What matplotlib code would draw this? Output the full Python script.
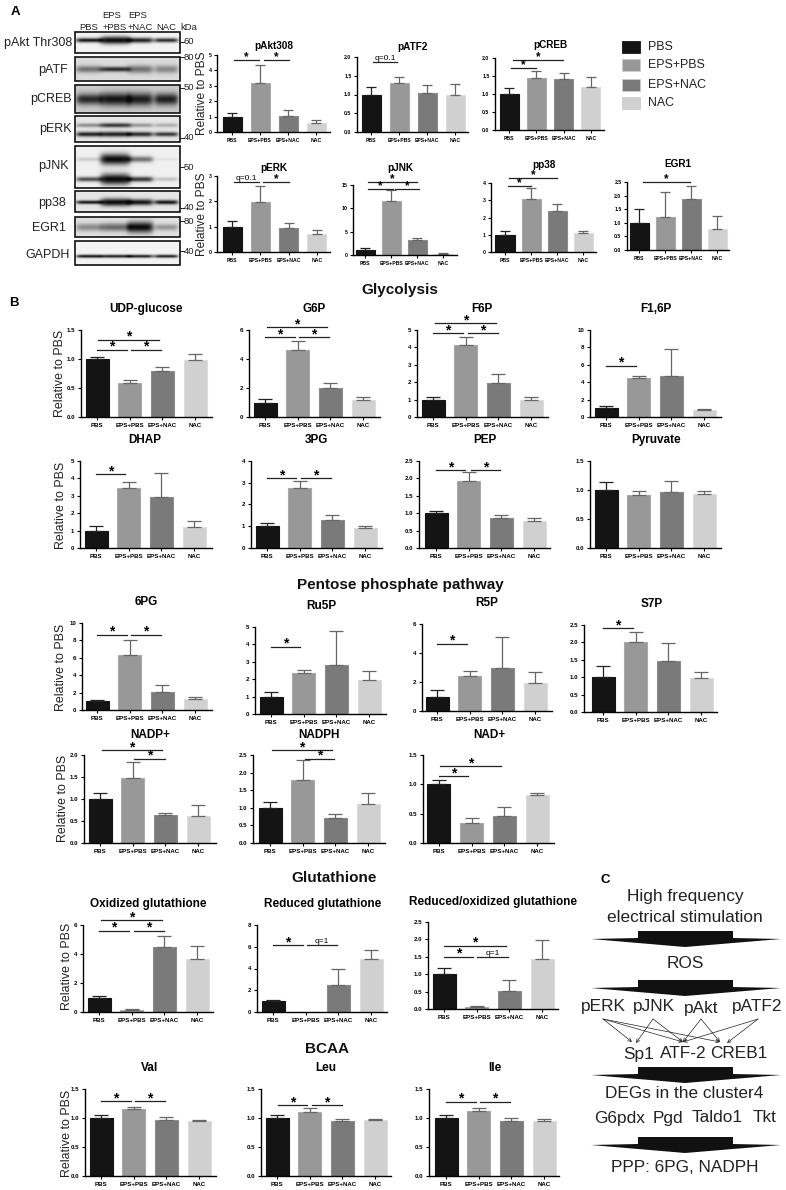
import numpy as np
import matplotlib
matplotlib.use("Agg")
import matplotlib.pyplot as plt
from matplotlib.patches import Polygon, Rectangle

plt.rcParams['font.family'] = ['Liberation Sans', 'DejaVu Sans']

W, H = 786, 1190

groups = ['PBS', 'EPS+PBS', 'EPS+NAC', 'NAC']
bar_colors = ['#141414', '#989898', '#7a7a7a', '#d0d0d0']
edge_colors = ['#141414', '#aaaaaa', '#8c8c8c', '#dcdcdc']
err_colors = ['#222222', '#666666', '#666666', '#666666']

# values and tops of the error bars
pakt_vals, pakt_tops = [1.0, 3.2, 1.05, 0.6], [1.22, 4.35, 1.4, 0.75]
patf_vals, patf_tops = [1.0, 1.32, 1.05, 1.0], [1.2, 1.48, 1.25, 1.27]
pcreb_vals, pcreb_tops = [1.0, 1.45, 1.43, 1.2], [1.17, 1.65, 1.57, 1.48]
perk_vals, perk_tops = [1.0, 1.97, 0.95, 0.7], [1.22, 2.62, 1.15, 0.85]
pjnk_vals, pjnk_tops = [1.0, 11.6, 3.2, 0.3], [1.5, 14.0, 3.7, 0.5]
pp38_vals, pp38_tops = [1.0, 3.05, 2.4, 1.12], [1.22, 3.7, 2.8, 1.22]
egr1_vals, egr1_tops = [1.0, 1.22, 1.87, 0.77], [1.5, 2.15, 2.35, 1.24]

udp_vals, udp_tops = [1.0, 0.58, 0.79, 0.99], [1.04, 0.64, 0.87, 1.08]
g6p_vals, g6p_tops = [1.0, 4.65, 2.0, 1.2], [1.22, 5.27, 2.32, 1.36]
f6p_vals, f6p_tops = [1.0, 4.12, 1.93, 0.97], [1.17, 4.62, 2.45, 1.16]
f16p_vals, f16p_tops = [1.0, 4.5, 4.75, 0.85], [1.22, 4.72, 7.8, 0.97]
dhap_vals, dhap_tops = [1.0, 3.45, 2.95, 1.22], [1.25, 3.82, 4.33, 1.57]
pg3_vals, pg3_tops = [1.0, 2.77, 1.27, 0.92], [1.13, 3.08, 1.5, 1.02]
pep_vals, pep_tops = [1.0, 1.92, 0.87, 0.77], [1.05, 2.17, 0.96, 0.85]
pyr_vals, pyr_tops = [1.0, 0.92, 0.97, 0.93], [1.13, 0.98, 1.15, 0.99]

pg6_vals, pg6_tops = [1.0, 6.3, 2.1, 1.25], [1.2, 8.0, 2.87, 1.5]
ru5p_vals, ru5p_tops = [1.0, 2.33, 2.82, 1.98], [1.25, 2.55, 4.75, 2.5]
r5p_vals, r5p_tops = [1.0, 2.4, 2.95, 1.95], [1.43, 2.75, 5.07, 2.68]
s7p_vals, s7p_tops = [1.0, 2.02, 1.47, 0.97], [1.31, 2.3, 1.97, 1.16]
nadp_vals, nadp_tops = [1.0, 1.47, 0.64, 0.62], [1.13, 1.84, 0.69, 0.87]
nadph_vals, nadph_tops = [1.0, 1.8, 0.72, 1.1], [1.16, 2.35, 0.83, 1.43]
nad_vals, nad_tops = [1.0, 0.34, 0.46, 0.82], [1.07, 0.43, 0.61, 0.86]

gssg_vals, gssg_tops = [1.0, 0.13, 4.5, 3.65], [1.08, 0.2, 5.25, 4.55]
gsh_vals, gsh_tops = [1.0, 0.0, 2.5, 4.9], [1.08, 0.0, 3.95, 5.72]
ratio_vals, ratio_tops = [1.0, 0.07, 0.53, 1.43], [1.18, 0.09, 0.83, 1.98]

val_vals, val_tops = [1.0, 1.15, 0.97, 0.94], [1.05, 1.19, 1.02, 0.97]
leu_vals, leu_tops = [1.0, 1.11, 0.95, 0.96], [1.05, 1.17, 0.98, 0.98]
ile_vals, ile_tops = [1.0, 1.12, 0.95, 0.95], [1.05, 1.17, 1.0, 0.98]

# significance lines: x0, x1, y, label
pakt_sig = [(0.07, 0.96, 4.68, '*'), (1.14, 2.04, 4.68, '*')]
patf_sig = [(0.07, 0.93, 1.87, 'q=0.1')]
pcreb_sig = [(0.15, 1.98, 1.94, '*'), (0.07, 1.0, 1.72, '*')]
perk_sig = [(0.07, 0.95, 2.77, 'q=0.1'), (1.1, 2.02, 2.77, '*')]
pjnk_sig = [(0.12, 2.0, 15.6, '*'), (0.12, 1.08, 14.1, '*'), (1.15, 2.08, 14.1, '*')]
pp38_sig = [(0.15, 2.0, 4.27, '*'), (0.1, 1.0, 3.83, '*')]
egr1_sig = [(0.15, 1.96, 2.5, '*')]
udp_sig = [(0.03, 1.9, 1.33, '*'), (0.0, 0.92, 1.155, '*'), (1.03, 1.95, 1.155, '*')]
g6p_sig = [(0.06, 1.9, 6.2, '*'), (0.0, 0.92, 5.5, '*'), (1.04, 1.96, 5.5, '*')]
f6p_sig = [(0.06, 1.93, 5.4, '*'), (0.0, 0.92, 4.8, '*'), (1.07, 1.99, 4.8, '*')]
f16p_sig = [(0.0, 0.92, 5.86, '*')]
dhap_sig = [(0.0, 0.89, 4.25, '*')]
pg3_sig = [(0.0, 0.89, 3.2, '*'), (1.04, 1.96, 3.2, '*')]
pep_sig = [(0.0, 0.89, 2.24, '*'), (1.07, 1.96, 2.24, '*')]
pg6_sig = [(0.0, 0.92, 8.62, '*'), (1.03, 1.95, 8.62, '*')]
ru5p_sig = [(0.0, 0.9, 3.85, '*')]
r5p_sig = [(0.0, 0.92, 4.62, '*')]
s7p_sig = [(0.0, 0.92, 2.41, '*')]
nadp_sig = [(0.06, 1.9, 2.11, '*'), (1.04, 2.0, 1.91, '*')]
nadph_sig = [(0.06, 1.9, 2.64, '*'), (1.07, 1.96, 2.39, '*')]
nad_sig = [(0.03, 1.9, 1.31, '*'), (0.0, 0.89, 1.14, '*')]
gssg_sig = [(0.06, 1.93, 6.34, '*'), (0.0, 0.92, 5.6, '*'), (1.07, 2.0, 5.6, '*')]
gsh_sig = [(0.0, 0.92, 6.15, '*'), (1.04, 1.96, 6.15, 'q=1')]
ratio_sig = [(0.0, 1.9, 1.81, '*'), (0.0, 0.89, 1.5, '*'), (1.01, 1.96, 1.5, 'q=1')]
val_sig = [(0.0, 0.92, 1.29, '*'), (1.04, 1.96, 1.29, '*')]
leu_sig = [(0.03, 0.92, 1.22, '*'), (1.07, 2.0, 1.22, '*')]
ile_sig = [(0.0, 0.92, 1.28, '*'), (1.04, 1.96, 1.28, '*')]

# title, vals, tops, sig, ymax, step, left, bottom, top, right, first bar, spacing, title x, title y
small_panels = [
    ('pAkt308', pakt_vals, pakt_tops, pakt_sig, 5, 1, 217, 132, 55, 330, 232, 28, 274, 46),
    ('pATF2', patf_vals, patf_tops, patf_sig, 2, 0.5, 357, 132, 57, 468, 371, 28, 412, 47),
    ('pCREB', pcreb_vals, pcreb_tops, pcreb_sig, 2, 0.5, 495, 130, 58, 604, 509, 27.3, 550, 45),
    ('pERK', perk_vals, perk_tops, perk_sig, 3, 1, 217, 252, 176, 330, 232, 28.3, 274, 168),
    ('pJNK', pjnk_vals, pjnk_tops, pjnk_sig, 15, 5, 353, 255, 185, 457, 365, 26, 400, 168),
    ('pp38', pp38_vals, pp38_tops, pp38_sig, 4, 1, 491, 252, 183, 596, 505, 26, 544, 165),
    ('EGR1', egr1_vals, egr1_tops, egr1_sig, 2.5, 0.5, 627, 250, 182, 729, 639, 26, 678, 164),
]
big_panels = [
    ('UDP-glucose', udp_vals, udp_tops, udp_sig, 1.5, 0.5, 81, 417, 330, 212, 97, 32.7, 146, 309),
    ('G6P', g6p_vals, g6p_tops, g6p_sig, 6, 2, 249, 417, 330, 380, 265, 32.7, 314, 309),
    ('F6P', f6p_vals, f6p_tops, f6p_sig, 5, 1, 417, 417, 330, 548, 433, 32.7, 482, 309),
    ('F1,6P', f16p_vals, f16p_tops, f16p_sig, 10, 2, 590, 417, 330, 721, 606, 32.7, 656, 309),
    ('DHAP', dhap_vals, dhap_tops, dhap_sig, 5, 1, 80, 548, 461, 212, 96, 32.7, 145, 440),
    ('3PG', pg3_vals, pg3_tops, pg3_sig, 4, 1, 251, 548, 461, 382, 267, 32.7, 316, 440),
    ('PEP', pep_vals, pep_tops, pep_sig, 2.5, 0.5, 419, 548, 461, 550, 436, 32.7, 485, 440),
    ('Pyruvate', pyr_vals, pyr_tops, [], 1.5, 0.5, 590, 548, 461, 721, 606, 32.7, 656, 440),
    ('6PG', pg6_vals, pg6_tops, pg6_sig, 10, 2, 82, 710, 623, 212, 97, 32.7, 146, 602),
    ('Ru5P', ru5p_vals, ru5p_tops, ru5p_sig, 5, 1, 255, 714, 627, 386, 271, 32.7, 321, 606),
    ('R5P', r5p_vals, r5p_tops, r5p_sig, 6, 2, 422, 711, 624, 552, 437, 32.7, 487, 603),
    ('S7P', s7p_vals, s7p_tops, s7p_sig, 2.5, 0.5, 584, 712, 625, 717, 603, 32.7, 652, 604),
    ('NADP+', nadp_vals, nadp_tops, nadp_sig, 2, 0.5, 84, 843, 755, 216, 100, 32.7, 150, 735),
    ('NADPH', nadph_vals, nadph_tops, nadph_sig, 2.5, 0.5, 253, 843, 755, 385, 270, 32.7, 319, 735),
    ('NAD+', nad_vals, nad_tops, nad_sig, 1.5, 0.5, 423, 843, 755, 554, 439, 32.7, 489, 735),
    ('Oxidized glutathione', gssg_vals, gssg_tops, gssg_sig, 6, 2, 83, 1012, 925, 213, 99, 32.7, 148, 904),
    ('Reduced glutathione', gsh_vals, gsh_tops, gsh_sig, 8, 2, 257, 1012, 925, 387, 273, 32.7, 323, 904),
    ('Reduced/oxidized glutathione', ratio_vals, ratio_tops, ratio_sig, 2.5, 0.5, 428, 1009, 922, 558, 444, 32.7, 493, 902),
    ('Val', val_vals, val_tops, val_sig, 1.5, 0.5, 85, 1176, 1089, 216, 101, 32.7, 150, 1068),
    ('Leu', leu_vals, leu_tops, leu_sig, 1.5, 0.5, 261, 1176, 1089, 391, 277, 32.7, 326, 1068),
    ('Ile', ile_vals, ile_tops, ile_sig, 1.5, 0.5, 429, 1176, 1089, 559, 446, 32.7, 495, 1068),
]

# blot boxes: top, bottom, background, then the bands as centre y, darkness per lane, thickness per lane
blot_lanes = [89, 115, 140, 166]
blot_halfwidths = [13, 15, 13, 12]
blots = [
    (32, 53, 0.95, [(40, [0.95, 1.0, 0.9, 0.85], [2.2, 3.8, 2.6, 2.2])]),
    (57, 81, 0.86, [(69, [0.5, 0.85, 0.5, 0.4], [3.5, 2.5, 4.0, 4.0])]),
    (85, 113, 0.8, [(99, [0.85, 0.95, 0.9, 0.9], [5.5, 6.5, 6.5, 6.0])]),
    (116, 142, 0.9, [(125, [0.4, 0.8, 0.35, 0.25], [2.0, 2.2, 2.0, 2.0]),
                     (134, [0.9, 0.9, 0.85, 0.8], [2.4, 2.6, 2.4, 2.2])]),
    (146, 188, 0.94, [(159, [0.15, 1.0, 0.55, 0.06], [2.0, 5.5, 3.0, 1.5]),
                      (179, [0.7, 1.0, 0.8, 0.2], [2.4, 5.5, 2.6, 2.0])]),
    (191, 212, 0.9, [(202, [0.95, 1.0, 0.95, 0.95], [1.8, 3.8, 3.0, 2.2])]),
    (217, 237, 0.88, [(227, [0.4, 0.55, 1.0, 0.35], [3.8, 4.2, 5.5, 3.2])]),
    (241, 265, 0.95, [(256, [0.95, 0.9, 0.9, 0.9], [1.6, 1.6, 1.6, 1.6])]),
]
blot_names = ['pAkt Thr308', 'pATF', 'pCREB', 'pERK', 'pJNK', 'pp38', 'EGR1', 'GAPDH']
blot_name_x = [72, 68, 72, 72, 69, 66, 66, 70]
blot_name_y = [43, 70, 99, 129, 166, 203, 228, 255]
kda_labels = ['60', '80', '50', '40', '50', '40', '80', '40']
kda_y = [42, 57, 88, 138, 167, 208, 221, 251]

fig = plt.figure(figsize=(W / 100, H / 100), dpi=100, facecolor='white')


def draw_panel(p, tick_fs, title_fs, bw, cap, sig_fs):
    title, vals, tops, sig, ymax, step, left, bottom, top, right, c0, sp, tx, ty = p
    ax = fig.add_axes([left / W, 1 - bottom / H, (right - left) / W, (bottom - top) / H])
    x = np.arange(4)
    ax.bar(x, vals, width=bw / sp, color=bar_colors, edgecolor=edge_colors, linewidth=0.8)
    for i in range(4):
        if tops[i] > vals[i]:
            ax.errorbar(x[i], vals[i], yerr=[[0], [tops[i] - vals[i]]], color=err_colors[i],
                        elinewidth=0.9, capsize=cap, capthick=0.9, zorder=1)
    ax.set_xlim((left - c0) / sp, (right - c0) / sp)
    ax.set_ylim(0, ymax)
    ax.set_xticks(x)
    ax.set_xticklabels(groups, fontsize=tick_fs, fontweight='bold')
    yt = np.arange(0, ymax + step / 2, step)
    ax.set_yticks(yt)
    ax.set_yticklabels([('%.1f' % v) if step < 1 else ('%d' % v) for v in yt],
                       fontsize=tick_fs, fontweight='bold')
    ax.tick_params(axis='both', length=2.5, width=0.8, pad=1.5)
    for side in ['top', 'right']:
        ax.spines[side].set_visible(False)
    for side in ['left', 'bottom']:
        ax.spines[side].set_linewidth(1.0)
    for x0, x1, y, label in sig:
        ax.plot([x0, x1], [y, y], color='#222222', lw=0.9, clip_on=False)
        if label == '*':
            # the asterisk sits high in its line box, a small lift clears the line
            ax.annotate('*', ((x0 + x1) / 2, y), xytext=(0, 2.2), textcoords='offset points',
                        ha='center', va='center', fontsize=sig_fs, fontweight='bold',
                        annotation_clip=False)
        else:
            ax.text((x0 + x1) / 2, y, label, ha='center', va='bottom', fontsize=6, clip_on=False)
    fig.text(tx / W, 1 - ty / H, title, ha='center', va='center', fontsize=title_fs, fontweight='bold')


for p in small_panels:
    draw_panel(p, 3.7, 7.2, 19, 3.5, 8.5)
for p in big_panels:
    draw_panel(p, 4.4, 8.5, 23, 4.7, 10)

# overlay in pixel coordinates for blots, legend, headings and the scheme
ov = fig.add_axes([0, 0, 1, 1], zorder=5)
ov.patch.set_alpha(0)
ov.axis('off')

for top, bottom, bg, bands in blots:
    ys, xs = np.mgrid[top:bottom:0.5, 75:180:0.5]
    dark = np.zeros(xs.shape)
    for yc, amps, sigs in bands:
        for lane, half, amp, sg in zip(blot_lanes, blot_halfwidths, amps, sigs):
            dark += amp * np.exp(-((xs - lane) / half) ** 6 - ((ys - yc) / sg) ** 2)
    img = bg - (bg - 0.04) * np.clip(dark, 0, 1)
    ov.imshow(img, extent=(75, 180, bottom, top), cmap='gray', vmin=0, vmax=1, aspect='auto', zorder=1)
    ov.add_patch(Rectangle((75, top), 105, bottom - top, fill=False, edgecolor='#111111', lw=1.2, zorder=2))

for name, nx, ny in zip(blot_names, blot_name_x, blot_name_y):
    ov.text(nx, ny, name, ha='right', va='center', fontsize=9, color='#222222')
for lab, ky in zip(kda_labels, kda_y):
    ov.plot([180, 184], [ky, ky], color='#222222', lw=0.7)
    ov.text(184, ky, lab, ha='left', va='center', fontsize=6.8, color='#222222')

for s, tx, ty in [('PBS', 89, 27), ('EPS', 112, 16), ('+PBS', 115, 27), ('EPS', 138, 16),
                  ('+NAC', 140, 27), ('NAC', 166, 27), ('kDa', 189, 27)]:
    ov.text(tx, ty, s, ha='center', va='center', fontsize=6.8, color='#222222')

for s, lx, ly in [('A', 15, 12), ('B', 14, 303), ('C', 605, 880)]:
    ov.text(lx, ly, s, ha='center', va='center', fontsize=9.5, fontweight='bold')

for s, sx, sy in [('Glycolysis', 400, 290), ('Pentose phosphate pathway', 400, 585),
                  ('Glutathione', 334, 878), ('BCAA', 327, 1049)]:
    ov.text(sx, sy, s, ha='center', va='center', fontsize=11, fontweight='bold', color='#111111')

for s, sx, sy in [('Relative to PBS', 202, 93), ('Relative to PBS', 202, 214)]:
    ov.text(sx, sy, s, rotation=90, ha='center', va='center', fontsize=8.6, color='#222222')
for s, sx, sy in [('Relative to PBS', 60, 373), ('Relative to PBS', 61, 505), ('Relative to PBS', 61, 667),
                  ('Relative to PBS', 63, 798), ('Relative to PBS', 67, 966), ('Relative to PBS', 67, 1133)]:
    ov.text(sx, sy, s, rotation=90, ha='center', va='center', fontsize=8.9, color='#222222')

# legend
for g, c, ly in zip(groups, bar_colors, [47, 65, 85, 103]):
    ov.add_patch(Rectangle((622, ly - 6), 18, 12, facecolor=c, edgecolor='#cccccc' if c != '#141414' else c, lw=0.6))
    ov.text(648, ly, g, ha='left', va='center', fontsize=8.9, color='#222222')

# scheme C
scheme_text = [('High frequency', 685, 897), ('electrical stimulation', 685, 917), ('ROS', 685, 963),
               ('pERK', 603, 1007), ('pJNK', 654, 1007), ('pAkt', 701, 1008), ('pATF2', 757, 1007),
               ('Sp1', 639, 1054), ('ATF-2', 683, 1054), ('CREB1', 739, 1054),
               ('DEGs in the cluster4', 684, 1093), ('G6pdx', 620, 1118), ('Pgd', 668, 1118),
               ('Taldo1', 717, 1118), ('Tkt', 765, 1118), ('PPP: 6PG, NADPH', 685, 1167)]
for s, sx, sy in scheme_text:
    ov.text(sx, sy, s, ha='center', va='center', fontsize=12.4, color='#222222')

for t in [931, 980, 1067, 1137]:
    ov.add_patch(Polygon([(638, t), (733, t), (733, t + 7), (781, t + 8), (685, t + 16), (591, t + 8), (638, t + 7)],
                         closed=True, facecolor='#111111', edgecolor='none'))

small_arrows = [((603, 1019), (632, 1042)), ((603, 1019), (683, 1042)), ((603, 1019), (720, 1042)),
                ((653, 1019), (636, 1043)), ((653, 1019), (683, 1042)),
                ((701, 1019), (683, 1042)), ((701, 1019), (720, 1042)),
                ((758, 1019), (683, 1042)), ((758, 1019), (727, 1043))]
for a, b in small_arrows:
    ov.annotate('', xy=b, xytext=a, arrowprops=dict(arrowstyle='->', lw=0.5, color='#222222',
                                                    mutation_scale=6, shrinkA=0, shrinkB=0))

ov.set_xlim(0, W)
ov.set_ylim(H, 0)

fig.savefig('out.png', dpi=100)
